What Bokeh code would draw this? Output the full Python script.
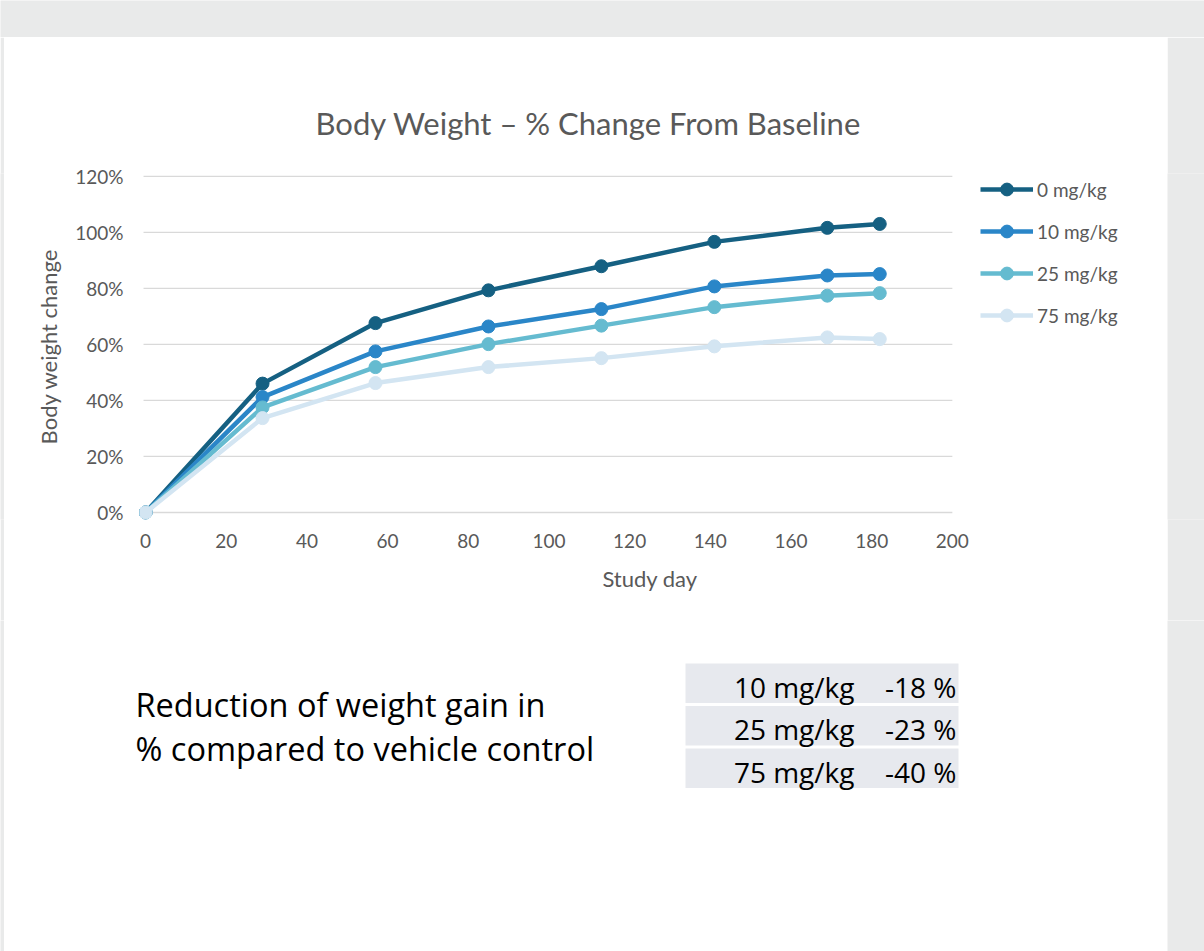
from bokeh.plotting import figure
from bokeh.models import ColumnDataSource, Range1d, FixedTicker, Legend, LegendItem
from bokeh.layouts import column, row
from bokeh.embed import file_html
from bokeh.resources import INLINE
from bokeh.core.properties import value

# ---------------- data ----------------
days = [0, 29, 57, 85, 113, 141, 169, 182]
bw_0mg = [0, 46.0, 67.6, 79.3, 87.9, 96.6, 101.6, 103.0]
bw_10mg = [0, 41.2, 57.5, 66.4, 72.6, 80.7, 84.6, 85.1]
bw_25mg = [0, 37.5, 51.9, 60.1, 66.7, 73.3, 77.4, 78.3]
bw_75mg = [0, 33.7, 46.2, 51.9, 55.1, 59.3, 62.5, 61.9]
series_names = ["0 mg/kg", "10 mg/kg", "25 mg/kg", "75 mg/kg"]
series_colors = ["#156082", "#2a86c8", "#65bbd0", "#d3e5f2"]

x_ticks = [0, 20, 40, 60, 80, 100, 120, 140, 160, 180, 200]
y_ticks = [0, 20, 40, 60, 80, 100, 120]
y_tick_labels = ["0%", "20%", "40%", "60%", "80%", "100%", "120%"]

chart_title = "Body Weight \u2013 % Change From Baseline"
x_title = "Study day"
y_title = "Body weight change"

note_lines = ["Reduction of weight gain in", "% compared to vehicle control"]
table_doses = ["10 mg/kg", "25 mg/kg", "75 mg/kg"]
table_reduction = ["-18 %", "-23 %", "-40 %"]

# ---------------- styles ----------------
GRAY_BG = "#e9eaea"
TXT = "#595959"
FONT = "Lato"
TFONT = "Open Sans"
PAGE_W, PAGE_H = 1204, 951
TOP_H = 37
LEFT_W = 4
MAIN_W = 1163
RIGHT_W = PAGE_W - LEFT_W - MAIN_W
CHART_H = 583
BOTTOM_H = PAGE_H - TOP_H - CHART_H

X_START = -1.5
X_AXIS_END = 200
PX_PER_DAY = 4.034
FRAME_L, FRAME_R = 135, 1156          # frame edges inside the chart figure
X_END = X_START + (FRAME_R - FRAME_L) / PX_PER_DAY


def spacer(w, h):
    s = figure(width=w, height=h, output_backend="svg", toolbar_location=None,
               min_border=0, background_fill_color=GRAY_BG, border_fill_color=GRAY_BG,
               x_range=Range1d(0, 1), y_range=Range1d(0, 1))
    s.axis.visible = False
    s.grid.visible = False
    s.outline_line_color = None
    s.scatter([0.5], [0.5], size=0, alpha=0)
    return s


# ---------------- chart ----------------
p = figure(width=MAIN_W, height=CHART_H, output_backend="svg", toolbar_location=None,
           x_range=Range1d(X_START, X_END), y_range=Range1d(-2.5, 121),
           min_border_left=FRAME_L, min_border_right=MAIN_W - FRAME_R,
           min_border_top=136, min_border_bottom=101,
           title=chart_title)
p.outline_line_color = None
p.background_fill_color = "white"
p.border_fill_color = "white"

p.title.text_font = FONT
p.title.text_font_size = "31px"
p.title.text_font_style = "normal"
p.title.text_color = TXT
p.title.align = "left"
p.title.offset = 176
p.title.standoff = 64

for ax in (p.xaxis[0], p.yaxis[0]):
    ax.axis_line_color = None
    ax.major_tick_line_color = None
    ax.minor_tick_line_color = None
    ax.major_tick_out = 0
    ax.major_tick_in = 0
    ax.major_label_text_font = FONT
    ax.major_label_text_font_size = "19px"
    ax.major_label_text_color = TXT
    ax.axis_label_text_font = FONT
    ax.axis_label_text_font_size = "22px"
    ax.axis_label_text_font_style = "normal"
    ax.axis_label_text_color = TXT

p.xaxis.ticker = FixedTicker(ticks=x_ticks)
p.xaxis.axis_label = x_title
p.xaxis.major_label_standoff = 14
p.xaxis.axis_label_standoff = 14

p.yaxis.ticker = FixedTicker(ticks=y_ticks)
p.yaxis.major_label_overrides = {t: l for t, l in zip(y_ticks, y_tick_labels)}
p.yaxis.axis_label = y_title
p.yaxis.major_label_standoff = 16
p.yaxis.axis_label_standoff = 10

# horizontal gridlines over the plotted day span only (legend sits to the right)
p.grid.visible = False
p.segment(x0=-0.5, x1=X_AXIS_END, y0=y_ticks, y1=y_ticks,
          line_color="#d9d9d9", line_width=1.3)

src = ColumnDataSource(dict(day=days, s0=bw_0mg, s1=bw_10mg, s2=bw_25mg, s3=bw_75mg))
items = []
for i, (name, col) in enumerate(zip(series_names, series_colors)):
    ln = p.line("day", f"s{i}", source=src, line_color=col, line_width=4.5)
    sc = p.scatter("day", f"s{i}", source=src, size=13, fill_color=col, line_color=col)
    items.append(LegendItem(label=name, renderers=[ln, sc]))

legend = Legend(items=items, location=(841, 188), orientation="vertical",
                glyph_width=53, glyph_height=32, label_height=20, spacing=10,
                padding=0, margin=0, label_standoff=4,
                label_text_font=FONT, label_text_font_size="19px", label_text_color=TXT,
                border_line_color=None, background_fill_alpha=0)
p.add_layout(legend, "center")

# ---------------- bottom text + table (page coordinates) ----------------
b = figure(width=MAIN_W, height=BOTTOM_H, output_backend="svg", toolbar_location=None,
           x_range=Range1d(LEFT_W, LEFT_W + MAIN_W), y_range=Range1d(PAGE_H, PAGE_H - BOTTOM_H),
           min_border=0)
b.axis.visible = False
b.grid.visible = False
b.outline_line_color = None
b.background_fill_color = "white"
b.border_fill_color = "white"

note_y = [704 + 44 * i for i in range(len(note_lines))]
b.text(x=[135] * len(note_lines), y=note_y, text=note_lines,
       text_font=value(TFONT), text_font_size="32.5px", text_color="black",
       text_baseline="alphabetic", text_align="left")

n = len(table_doses)
row_top = [663 + 42.5 * i for i in range(n)]
row_bot = [t + 39.5 for t in row_top]
tsrc = ColumnDataSource(dict(top=row_top, bottom=row_bot,
                             base=[t + 23 for t in row_top],
                             dose=table_doses, red=table_reduction))
b.quad(left=685, right=958, top="top", bottom="bottom", source=tsrc,
       fill_color="#e7e9ee", line_color=None)
b.text(x=854, y="base", text="dose", source=tsrc, text_font=value(TFONT),
       text_font_size="28px", text_color="black", text_align="right", text_baseline="alphabetic")
b.text(x=956, y="base", text="red", source=tsrc, text_font=value(TFONT),
       text_font_size="28px", text_color="black", text_align="right", text_baseline="alphabetic")

layout = column(spacer(PAGE_W, TOP_H),
                row(spacer(LEFT_W, CHART_H), p, spacer(RIGHT_W, CHART_H)),
                row(spacer(LEFT_W, BOTTOM_H), b, spacer(RIGHT_W, BOTTOM_H)))

open("out.html", "w").write(file_html(layout, INLINE))
